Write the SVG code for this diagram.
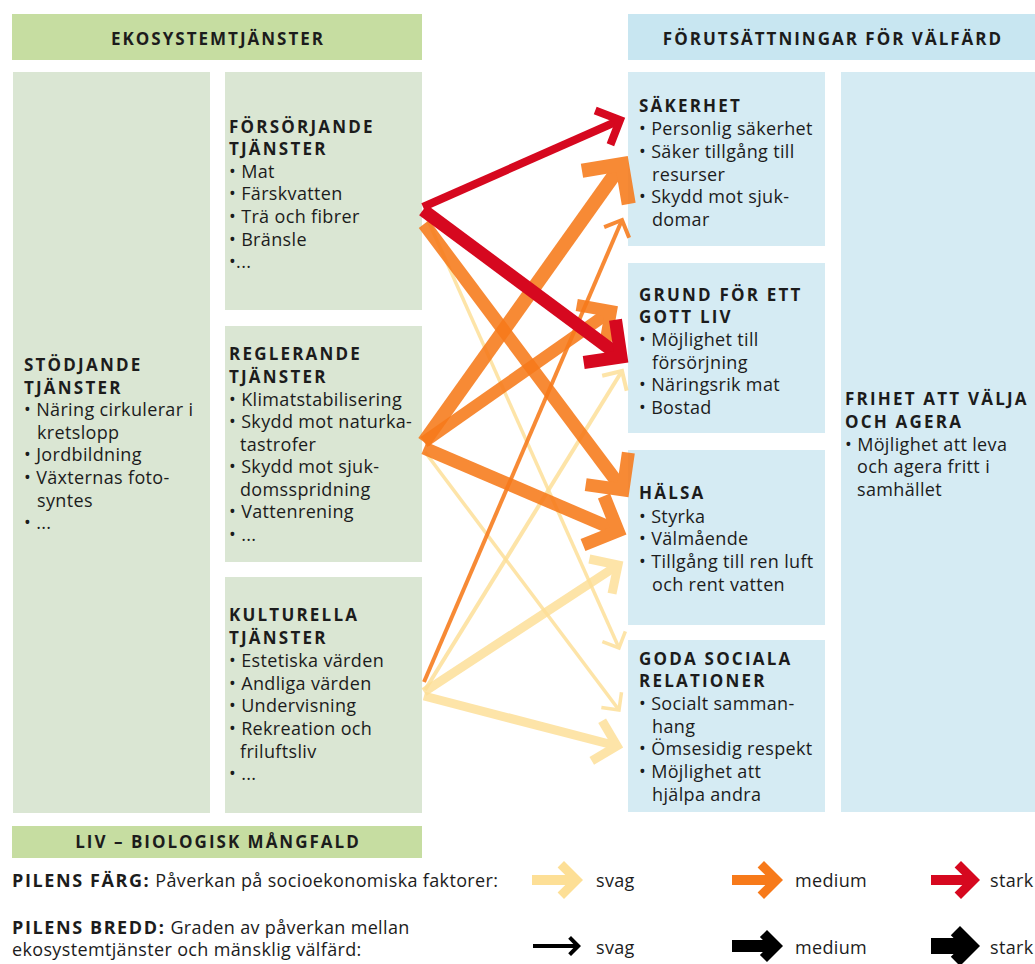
<svg xmlns="http://www.w3.org/2000/svg" width="1035" height="964" viewBox="0 0 1035 964">
<style>
.hdrG{fill:#c6dda1}
.boxG{fill:#dae6d3}
.hdrB{fill:#c8e6f1}
.boxB{fill:#d5ebf3}
text{font-family:"Open Sans","DejaVu Sans",sans-serif;fill:#1c1c1c}
.h{font-size:17px;font-weight:bold;letter-spacing:2px}
.t{font-size:17px;font-weight:bold;letter-spacing:2.2px}
.b{font-size:18px;letter-spacing:0.35px}
.lg{font-size:18px;letter-spacing:0.35px}
.lgb{font-size:18px;font-weight:bold;letter-spacing:1.6px}
.red{stroke:#d6081f;fill:none}
.org{stroke:#f77a1a;fill:none;opacity:0.88}
.yel{stroke:#fddf96;fill:none;opacity:0.82}
</style>
<defs>
<marker id="mRedMed" markerUnits="strokeWidth" markerWidth="8" markerHeight="8" refX="0" refY="0" orient="auto" overflow="visible"><path d="M-2.35,-2.35 L0,0 L-2.35,2.35" fill="none" stroke="#d6081f" stroke-width="1" stroke-linejoin="miter"/></marker>
<marker id="mRedThk" markerUnits="strokeWidth" markerWidth="8" markerHeight="8" refX="0" refY="0" orient="auto" overflow="visible"><path d="M-2.05,-2.05 L0,0 L-2.05,2.05" fill="none" stroke="#d6081f" stroke-width="1" stroke-linejoin="miter"/></marker>
<marker id="mOrgThk" markerUnits="strokeWidth" markerWidth="8" markerHeight="8" refX="0" refY="0" orient="auto" overflow="visible"><path d="M-2.05,-2.05 L0,0 L-2.05,2.05" fill="none" stroke="#f77a1a" stroke-width="1" stroke-linejoin="miter"/></marker>
<marker id="mOrgThn" markerUnits="strokeWidth" markerWidth="8" markerHeight="8" refX="0" refY="0" orient="auto" overflow="visible"><path d="M-3.4,-3.4 L0,0 L-3.4,3.4" fill="none" stroke="#f77a1a" stroke-width="1" stroke-linejoin="miter"/></marker>
<marker id="mYelThn" markerUnits="strokeWidth" markerWidth="8" markerHeight="8" refX="0" refY="0" orient="auto" overflow="visible"><path d="M-3.6,-3.6 L0,0 L-3.6,3.6" fill="none" stroke="#fddf96" stroke-width="1" stroke-linejoin="miter"/></marker>
<marker id="mYelMed" markerUnits="strokeWidth" markerWidth="8" markerHeight="8" refX="0" refY="0" orient="auto" overflow="visible"><path d="M-2.3,-2.3 L0,0 L-2.3,2.3" fill="none" stroke="#fddf96" stroke-width="1" stroke-linejoin="miter"/></marker>
</defs>
<rect width="1035" height="964" fill="#ffffff"/>

<g id="hdr-eko"><rect class="hdrG" x="12" y="14" width="410" height="46"/><text class="h" x="218" y="45" text-anchor="middle">EKOSYSTEMTJÄNSTER</text></g>
<g id="hdr-forut"><rect class="hdrB" x="628" y="14" width="407" height="46"/><text class="h" x="833" y="45" text-anchor="middle">FÖRUTSÄTTNINGAR FÖR VÄLFÄRD</text></g>
<g id="hdr-liv"><rect class="hdrG" x="12" y="826" width="410" height="32"/><text class="h" x="218" y="848" text-anchor="middle">LIV – BIOLOGISK MÅNGFALD</text></g>

<g id="stodjande"><rect class="boxG" x="13" y="72" width="197" height="741"/>
<text class="t" x="24" y="371">STÖDJANDE</text><text class="t" x="24" y="394">TJÄNSTER</text>
<text class="b" x="24" y="416">• Näring cirkulerar i</text><text class="b" x="37" y="439">kretslopp</text>
<text class="b" x="24" y="461">• Jordbildning</text><text class="b" x="24" y="484">• Växternas foto-</text>
<text class="b" x="37" y="507">syntes</text><text class="b" x="24" y="529">• ...</text></g>

<g id="forsorjande"><rect class="boxG" x="225" y="72" width="197" height="238"/>
<text class="t" x="229" y="133">FÖRSÖRJANDE</text><text class="t" x="229" y="155">TJÄNSTER</text>
<text class="b" x="229" y="178">• Mat</text><text class="b" x="229" y="200">• Färskvatten</text>
<text class="b" x="229" y="223">• Trä och fibrer</text><text class="b" x="229" y="246">• Bränsle</text>
<text class="b" x="229" y="268">•...</text></g>

<g id="reglerande"><rect class="boxG" x="225" y="326" width="197" height="236"/>
<text class="t" x="229" y="360">REGLERANDE</text><text class="t" x="229" y="383">TJÄNSTER</text>
<text class="b" x="229" y="406">• Klimatstabilisering</text><text class="b" x="229" y="428">• Skydd mot naturka-</text>
<text class="b" x="240" y="451">tastrofer</text><text class="b" x="229" y="473">• Skydd mot sjuk-</text>
<text class="b" x="240" y="496">domsspridning</text><text class="b" x="229" y="518">• Vattenrening</text>
<text class="b" x="229" y="541">• ...</text></g>

<g id="kulturella"><rect class="boxG" x="225" y="577" width="197" height="236"/>
<text class="t" x="229" y="621">KULTURELLA</text><text class="t" x="229" y="644">TJÄNSTER</text>
<text class="b" x="229" y="667">• Estetiska värden</text><text class="b" x="229" y="690">• Andliga värden</text>
<text class="b" x="229" y="712">• Undervisning</text><text class="b" x="229" y="735">• Rekreation och</text>
<text class="b" x="240" y="758">friluftsliv</text><text class="b" x="229" y="780">• ...</text></g>

<g id="sakerhet"><rect class="boxB" x="628" y="72" width="197" height="174"/>
<text class="t" x="639" y="112">SÄKERHET</text>
<text class="b" x="639" y="135">• Personlig säkerhet</text><text class="b" x="639" y="158">• Säker tillgång till</text>
<text class="b" x="652" y="181">resurser</text><text class="b" x="639" y="203">• Skydd mot sjuk-</text>
<text class="b" x="652" y="226">domar</text></g>

<g id="grund"><rect class="boxB" x="628" y="263" width="197" height="170"/>
<text class="t" x="639" y="301">GRUND FÖR ETT</text><text class="t" x="639" y="323">GOTT LIV</text>
<text class="b" x="639" y="346">• Möjlighet till</text><text class="b" x="652" y="369">försörjning</text>
<text class="b" x="639" y="391">• Näringsrik mat</text><text class="b" x="639" y="414">• Bostad</text></g>

<g id="halsa"><rect class="boxB" x="628" y="450" width="197" height="175"/>
<text class="t" x="639" y="499">HÄLSA</text>
<text class="b" x="639" y="523">• Styrka</text><text class="b" x="639" y="545">• Välmående</text>
<text class="b" x="639" y="568">• Tillgång till ren luft</text><text class="b" x="652" y="591">och rent vatten</text></g>

<g id="goda"><rect class="boxB" x="628" y="640" width="197" height="172"/>
<text class="t" x="639" y="665">GODA SOCIALA</text><text class="t" x="639" y="687">RELATIONER</text>
<text class="b" x="639" y="710">• Socialt samman-</text><text class="b" x="652" y="733">hang</text>
<text class="b" x="639" y="755">• Ömsesidig respekt</text><text class="b" x="639" y="778">• Möjlighet att</text>
<text class="b" x="652" y="801">hjälpa andra</text></g>

<g id="frihet"><rect class="boxB" x="841" y="72" width="194" height="740"/>
<text class="t" x="845" y="405">FRIHET ATT VÄLJA</text><text class="t" x="845" y="428">OCH AGERA</text>
<text class="b" x="845" y="451">• Möjlighet att leva</text><text class="b" x="857" y="473">och agera fritt i</text>
<text class="b" x="857" y="496">samhället</text></g>

<g id="connectors">
<line class="yel" x1="426" y1="216" x2="619" y2="648" stroke-width="3.5" marker-end="url(#mYelThn)"/>
<line class="yel" x1="425" y1="452" x2="619" y2="710" stroke-width="3.5" marker-end="url(#mYelThn)"/>
<line class="yel" x1="425" y1="690" x2="622" y2="371" stroke-width="4" marker-end="url(#mYelThn)"/>
<line class="yel" x1="424" y1="692" x2="618" y2="565" stroke-width="9" marker-end="url(#mYelMed)"/>
<line class="yel" x1="424" y1="696" x2="617" y2="746" stroke-width="9" marker-end="url(#mYelMed)"/>
<line class="org" x1="424" y1="682" x2="622" y2="220" stroke-width="4" marker-end="url(#mOrgThn)"/>
<line class="org" x1="424" y1="442" x2="622" y2="164" stroke-width="14" marker-end="url(#mOrgThk)"/>
<line class="org" x1="424" y1="442" x2="611" y2="311" stroke-width="12" marker-end="url(#mOrgThk)"/>
<line class="org" x1="424" y1="448" x2="618" y2="531" stroke-width="13" marker-end="url(#mOrgThk)"/>
<line class="org" x1="424" y1="224" x2="623" y2="490" stroke-width="13" marker-end="url(#mOrgThk)"/>
<line class="red" x1="423" y1="210" x2="621" y2="357" stroke-width="13" marker-end="url(#mRedThk)"/>
<line class="red" x1="423" y1="207" x2="620" y2="120" stroke-width="8" marker-end="url(#mRedMed)"/>
</g>

<g id="legend">
<text x="12" y="887"><tspan class="lgb">PILENS FÄRG:</tspan><tspan class="lg"> Påverkan på socioekonomiska faktorer:</tspan></text>
<text x="12" y="934"><tspan class="lgb">PILENS BREDD:</tspan><tspan class="lg"> Graden av påverkan mellan</tspan></text>
<text class="lg" x="12" y="956">ekosystemtjänster och mänsklig välfärd:</text>
<polygon fill="#fddf96" points="532,875 565.3,875 557.6,867.4 564,861 583,880 564,899 557.6,892.6 565.3,885 532,885"/>
<polygon fill="#f77a1a" points="732,875 765.3,875 757.6,867.4 764,861 783,880 764,899 757.6,892.6 765.3,885 732,885"/>
<polygon fill="#d6081f" points="931,875 962.3,875 954.6,867.4 961,861 980,880 961,899 954.6,892.6 962.3,885 931,885"/>
<polygon fill="#000000" points="533,944 573.3,944 568.2,938.8 571,936 581,946 571,956 568.2,953.2 573.3,948 533,948"/>
<polygon fill="#000000" points="732,940 762.9,940 759.9,937.1 767,930 783,946 767,962 759.9,954.9 762.9,952 732,952"/>
<polygon fill="#000000" points="931,938 953.6,938 950.8,935.2 960,926 980,946 960,966 950.8,956.8 953.6,954 931,954"/>
<text class="lg" x="596" y="887">svag</text><text class="lg" x="795" y="887">medium</text><text class="lg" x="990" y="887">stark</text>
<text class="lg" x="596" y="954">svag</text><text class="lg" x="795" y="954">medium</text><text class="lg" x="990" y="954">stark</text>
</g>
</svg>
